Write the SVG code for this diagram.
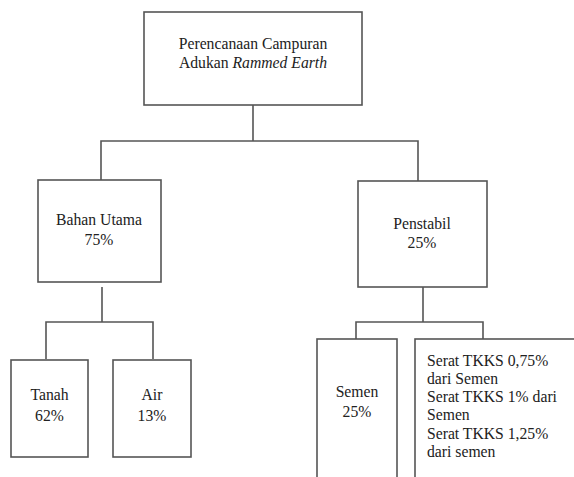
<svg xmlns="http://www.w3.org/2000/svg" width="574" height="477" viewBox="0 0 574 477">
<style>
.box{fill:#fff;stroke:#555;stroke-width:1.6}
.ln{fill:none;stroke:#555;stroke-width:1.6}
text{font-family:'Liberation Serif','DejaVu Serif',serif;font-size:15.7px;fill:#222}
.c{text-anchor:middle}
</style>
<rect width="574" height="477" fill="#fff"/>
<g id="connectors">
<path class="ln" d="M253,105 V141 M101,180 V141 H418 V181"/>
<path class="ln" d="M102,287 V322 M46,359 V322 H153 V359"/>
<path class="ln" d="M423,287 V322 M356,339 V322 H483 V339"/>
</g>
<g id="root">
<rect class="box" x="144" y="12" width="218" height="93"/>
<text class="c" x="253" y="49">Perencanaan Campuran</text>
<text class="c" x="253" y="68">Adukan <tspan font-style="italic">Rammed Earth</tspan></text>
</g>
<g id="bahan-utama">
<rect class="box" x="38" y="180" width="123" height="102"/>
<text class="c" x="99" y="225">Bahan Utama</text>
<text class="c" x="99" y="245">75%</text>
</g>
<g id="penstabil">
<rect class="box" x="358" y="181" width="129" height="106"/>
<text class="c" x="422" y="229">Penstabil</text>
<text class="c" x="422" y="248">25%</text>
</g>
<g id="tanah">
<rect class="box" x="11" y="360" width="77" height="97"/>
<text class="c" x="49.5" y="400">Tanah</text>
<text class="c" x="49.5" y="421">62%</text>
</g>
<g id="air">
<rect class="box" x="113" y="360" width="78" height="97"/>
<text class="c" x="152" y="400">Air</text>
<text class="c" x="152" y="421">13%</text>
</g>
<g id="semen">
<rect class="box" x="317" y="339" width="80" height="150"/>
<text class="c" x="357" y="397">Semen</text>
<text class="c" x="357" y="417">25%</text>
</g>
<g id="serat">
<rect class="box" x="415" y="339" width="170" height="150"/>
<text x="427" y="366">Serat TKKS 0,75%</text>
<text x="427" y="384">dari Semen</text>
<text x="427" y="402">Serat TKKS 1% dari</text>
<text x="427" y="420">Semen</text>
<text x="427" y="439">Serat TKKS 1,25%</text>
<text x="427" y="457">dari semen</text>
</g>
</svg>
